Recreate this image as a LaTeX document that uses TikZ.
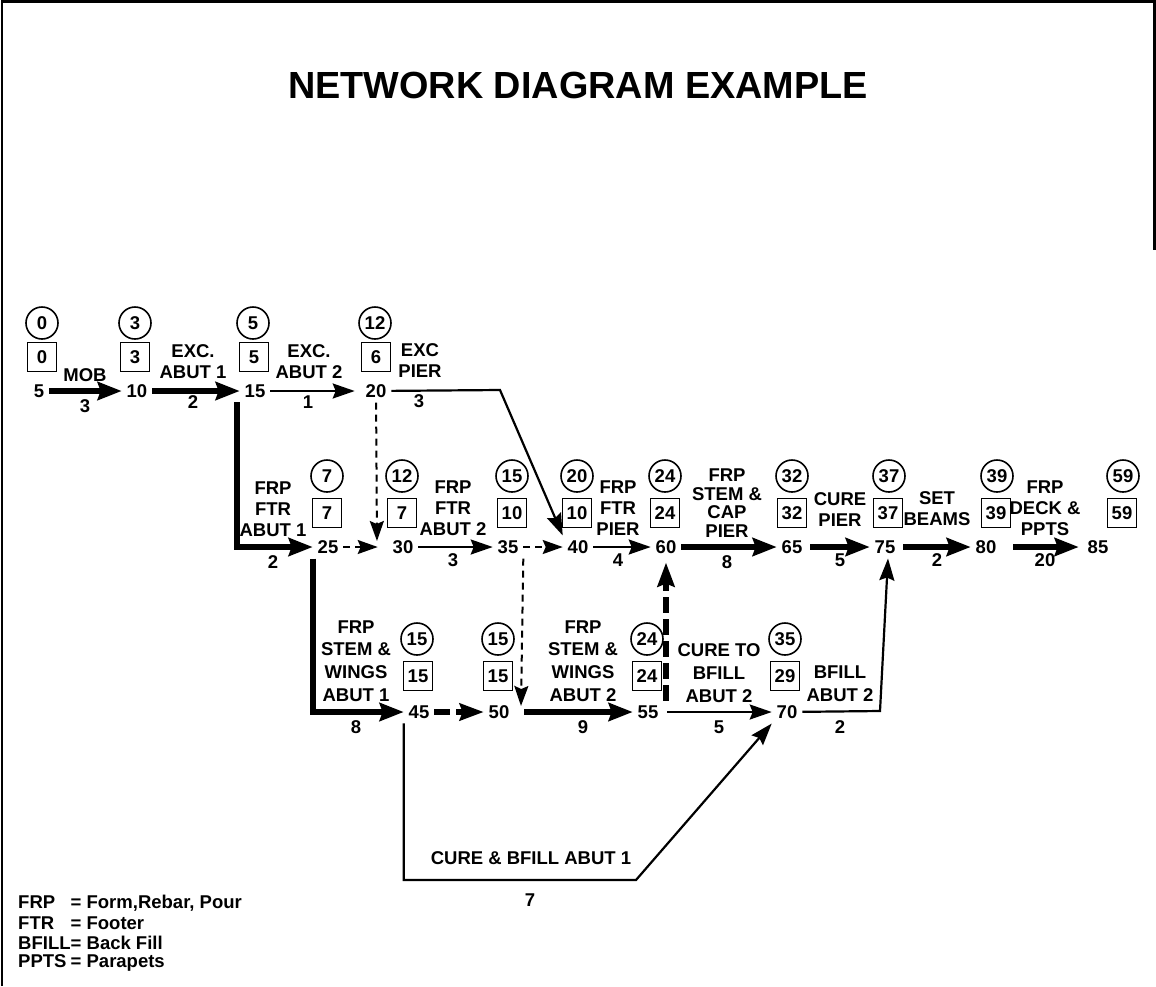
\documentclass[tikz,border=0pt]{standalone}
\usepackage{fontspec}
\setmainfont{Liberation Sans}
\usetikzlibrary{arrows.meta}
\begin{document}
\begin{tikzpicture}[x=1pt,y=-1pt,
  txt/.style={font=\fontsize{18.5}{21}\selectfont\bfseries},
  lab/.style={txt, align=center, inner sep=0pt},
  labB/.style={font=\fontsize{18.5}{22.7}\selectfont\bfseries, align=center, inner sep=0pt},
  labC/.style={font=\fontsize{18.5}{18.5}\selectfont\bfseries, align=center, inner sep=0pt},
  ev/.style={txt, inner sep=5pt, outer sep=0pt},
  es/.style={txt, circle, draw, line width=1.6pt, minimum size=32pt, inner sep=0pt},
  ls/.style={txt, rectangle, draw, line width=1.6pt, minimum width=29pt, minimum height=29pt, inner sep=2pt},
  actthin/.style={line width=2.2pt, -{Stealth[length=22pt,width=15pt,inset=3pt]}},
  actthick/.style={line width=6pt, -{Stealth[length=24pt,width=18pt,inset=3pt]}},
  dumthin/.style={line width=2pt, dash pattern=on 7pt off 5pt, -{Stealth[length=20pt,width=14pt,inset=3pt]}},
  dumthick/.style={line width=6pt, dash pattern=on 16pt off 6pt, -{Stealth[length=24pt,width=17pt,inset=3pt]}},
  legend/.style={txt, anchor=west, inner sep=0pt}
]
\fill[white] (0,0) rectangle (1156,986);
\useasboundingbox (0,0) rectangle (1156,986);
\draw[line width=2.5pt] (2,986) -- (2,1.25) -- (1154.5,1.25) -- (1154.5,250);

\node[font=\fontsize{37.8}{42}\selectfont\bfseries] (title) at (578,85) {NETWORK DIAGRAM EXAMPLE};

% ---------- event numbers ----------
\node[ev] (e5)  at (39,391)  {5};
\node[ev] (e10) at (137,391) {10};
\node[ev] (e15) at (255,391) {15};
\node[ev] (e20) at (376,391) {20};
\node[ev] (e25) at (328,547) {25};
\node[ev] (e30) at (403,547) {30};
\node[ev] (e35) at (508,547) {35};
\node[ev] (e40) at (578,547) {40};
\node[ev] (e60) at (666,547) {60};
\node[ev] (e65) at (792,547) {65};
\node[ev] (e75) at (885,547) {75};
\node[ev] (e80) at (986,547) {80};
\node[ev] (e85) at (1098,547) {85};
\node[ev] (e45) at (419,712) {45};
\node[ev] (e50) at (499,712) {50};
\node[ev] (e55) at (648,712) {55};
\node[ev] (e70) at (787,712) {70};

% ---------- early start (circles) and late start (squares) ----------
\node[es] (es5)  at (42,323)  {0};
\node[es] (es10) at (135,323) {3};
\node[es] (es15) at (253,323) {5};
\node[es] (es20) at (375,323) {12};
\node[ls] (ls5)  at (42,357)  {0};
\node[ls] (ls10) at (135,357) {3};
\node[ls] (ls15) at (254,357) {5};
\node[ls] (ls20) at (376,357) {6};

\node[es] (es25) at (327,476)  {7};
\node[es] (es30) at (402,476)  {12};
\node[es] (es35) at (512,476)  {15};
\node[es] (es40) at (577,476)  {20};
\node[es] (es60) at (665,476)  {24};
\node[es] (es65) at (792,476)  {32};
\node[es] (es75) at (889,476)  {37};
\node[es] (es80) at (997,476)  {39};
\node[es] (es85) at (1123,476) {59};
\node[ls] (ls25) at (327,513)  {7};
\node[ls] (ls30) at (402,513)  {7};
\node[ls] (ls35) at (512,513)  {10};
\node[ls] (ls40) at (577,513)  {10};
\node[ls] (ls60) at (665,513)  {24};
\node[ls] (ls65) at (792,513)  {32};
\node[ls] (ls75) at (888,513)  {37};
\node[ls] (ls80) at (996,513)  {39};
\node[ls] (ls85) at (1122,513) {59};

\node[es] (es45) at (417,639) {15};
\node[es] (es50) at (498,639) {15};
\node[es] (es55) at (647,639) {24};
\node[es] (es70) at (785,639) {35};
\node[ls] (ls45) at (418,676) {15};
\node[ls] (ls50) at (498,676) {15};
\node[ls] (ls55) at (647,676) {24};
\node[ls] (ls70) at (785,676) {29};

% ---------- helper coordinates ----------
\coordinate (c20) at (500,390);
\coordinate (in30) at (377,545);
\coordinate (in50) at (521,706);
\coordinate (c70) at (880,711);
\coordinate (cb) at (636,880);

% ---------- activities ----------
\draw[actthick] (e5) -- (e10);
\draw[actthick] (e10) -- (e15);
\draw[actthin, shorten >=6pt] (e15) -- (e20);
\draw[actthin] (e20) -- (c20) -- (e40.north west);
\draw[dumthin, shorten >=4pt] (e20) -- (in30);
\draw[actthick] ([xshift=-3pt]e15.south west) |- (e25);
\draw[dumthin, shorten >=10pt] (e25) -- (e30);
\draw[actthin] (e30) -- (e35);
\draw[dumthin] (e35) -- (e40);
\draw[actthin] (e40) -- (e60);
\draw[actthick] (e60) -- (e65);
\draw[actthick, shorten <=3pt] (e65) -- (e75);
\draw[actthick, shorten <=3pt] (e75) -- (e80);
\draw[actthick, shorten <=12pt, shorten >=4pt] (e80) -- (e85);
\draw[actthick] (e25.south west) |- (e45);
\draw[dumthick] (e45) -- (e50);
\draw[dumthin] (e35.south east) -- (in50);
\draw[actthick, shorten <=10pt] (e50) -- (e55);
\draw[dumthick, shorten >=4pt] (e55.north -| e60) -- (e60);
\draw[actthin, shorten <=4pt] (e55) -- (e70);
\draw[actthin] (e70) -- (c70) -- ([xshift=3pt]e75.south);
\draw[actthin] (e45.south west) |- (cb) -- (e70.south west);

% ---------- activity labels ----------
\node[lab] (lmob) at (85,375) {MOB};
\node[lab] (dmob) at (85,406) {3};
\node[lab] (lexa1) at (193,362) {EXC.\\ABUT 1};
\node[lab] (dexa1) at (193,402) {2};
\node[lab] (lexa2) at (309,362) {EXC.\\ABUT 2};
\node[lab] (dexa2) at (308,402) {1};
\node[lab] (lexp) at (420,361) {EXC\\PIER};
\node[lab] (dexp) at (419,401) {3};

\node[lab] (lfa1) at (273,509) {FRP\\FTR\\ABUT 1};
\node[lab] (dfa1) at (273,562) {2};
\node[lab] (lfa2) at (453,508) {FRP\\FTR\\ABUT 2};
\node[lab] (dfa2) at (453,560) {3};
\node[lab] (lfp) at (618,508) {FRP\\FTR\\PIER};
\node[lab] (dfp) at (618,560) {4};
\node[labC] (lscp) at (727,503) {FRP\\STEM \&\\CAP\\PIER};
\node[lab] (dscp) at (727,562) {8};
\node[lab] (lcp) at (840,510) {CURE\\PIER};
\node[lab] (dcp) at (840,560) {5};
\node[lab] (lsb) at (937,509) {SET\\BEAMS};
\node[lab] (dsb) at (937,560) {2};
\node[lab] (lfd) at (1045,508) {FRP\\DECK \&\\PPTS};
\node[lab] (dfd) at (1045,560) {20};

\node[labB] (lsw1) at (356,661) {FRP\\STEM \&\\WINGS\\ABUT 1};
\node[lab] (dsw1) at (356,727) {8};
\node[labB] (lsw2) at (583,661) {FRP\\STEM \&\\WINGS\\ABUT 2};
\node[lab] (dsw2) at (583,727) {9};
\node[labB] (lcb2) at (719,673) {CURE TO\\BFILL\\ABUT 2};
\node[lab] (dcb2) at (719,727) {5};
\node[labB] (lbf2) at (840,684) {BFILL\\ABUT 2};
\node[lab] (dbf2) at (840,727) {2};
\node[lab] (lcb1) at (531,858) {CURE \& BFILL ABUT 1};
\node[lab] (dcb1) at (530,900) {7};

% ---------- legend ----------
\node[legend] (g1) at (18,903) {\makebox[52.5pt][l]{FRP}= Form,Rebar, Pour};
\node[legend] (g2) at (18,923) {\makebox[52.5pt][l]{FTR}= Footer};
\node[legend] (g3) at (18,943) {\makebox[52.5pt][l]{BFILL}= Back Fill};
\node[legend] (g4) at (18,963) {\makebox[52.5pt][l]{PPTS}= Parapets};
\end{tikzpicture}
\end{document}
